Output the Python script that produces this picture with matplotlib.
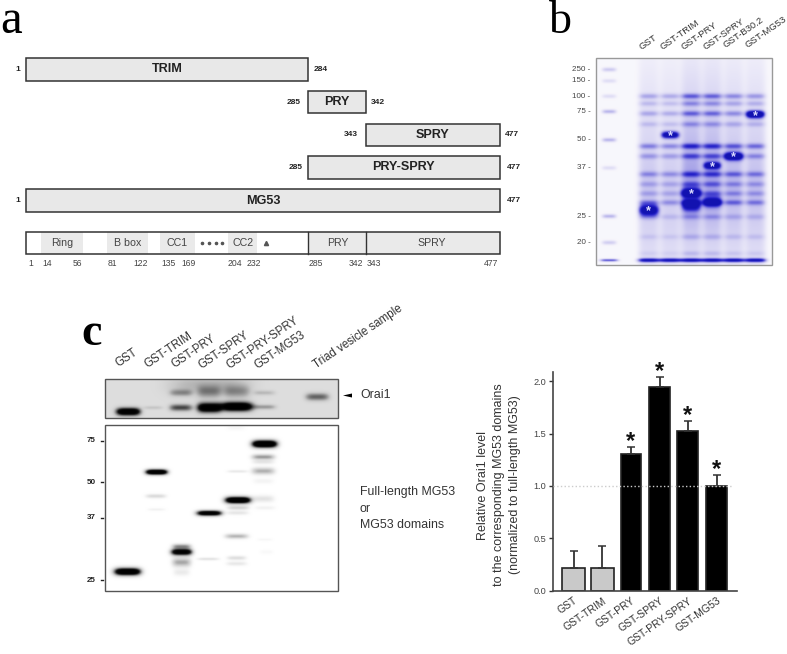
import numpy as np
import matplotlib
matplotlib.use('Agg')
import matplotlib.pyplot as plt
from matplotlib.colors import LinearSegmentedColormap
from matplotlib.patches import Rectangle, Polygon
from matplotlib.transforms import ScaledTranslation

plt.rcParams['font.family'] = ['Liberation Sans', 'DejaVu Sans']

# panel a: residue ranges
constructs = ['TRIM', 'PRY', 'SPRY', 'PRY-SPRY', 'MG53']
construct_start = [1, 285, 343, 285, 1]
construct_end = [284, 342, 477, 477, 477]
domain_names = ['Ring', 'B box', 'CC1', 'CC2']
residue_ticks = ['1', '14', '56', '81', '122', '135', '169', '204', '232', '285', '342', '343', '477']

# panel b: gel lanes
gel_b_labels = ['GST', 'GST-TRIM', 'GST-PRY', 'GST-SPRY', 'GST-B30.2', 'GST-MG53']
gel_b_mw = ['250', '150', '100', '75', '50', '37', '25', '20']

# panel c
blot_labels = ['GST', 'GST-TRIM', 'GST-PRY', 'GST-SPRY', 'GST-PRY-SPRY', 'GST-MG53', 'Triad vesicle sample']
blot_mw = ['75', '50', '37', '25']

# bar chart
bar_labels = ['GST', 'GST-TRIM', 'GST-PRY', 'GST-SPRY', 'GST-PRY-SPRY', 'GST-MG53']
bar_values = [0.22, 0.22, 1.30, 1.94, 1.52, 1.00]
bar_errors = [0.16, 0.21, 0.07, 0.10, 0.10, 0.10]
bar_signif = [False, False, True, True, True, True]

# band tables, x y halfwidth sigma density, in crop coordinates (3x)
top_blot_bands = [
    (175, 364, 36, 11, 1.3), (250, 352, 28, 5, 0.14), (333, 352, 34, 10, 0.6), (333, 308, 34, 10, 0.3),
    (418, 352, 36, 14, 1.3), (418, 305, 36, 18, 0.32), (500, 349, 48, 13, 1.4), (500, 305, 40, 18, 0.28),
    (583, 350, 34, 7, 0.3), (583, 308, 32, 7, 0.18), (742, 320, 35, 11, 0.5),
    (420, 285, 125, 30, 0.2),
]
low_blot_bands = [
    (173, 846, 40, 11, 1.6), (260, 548, 33, 8, 1.6), (258, 620, 30, 6, 0.22), (260, 660, 26, 4, 0.08),
    (335, 787, 32, 10, 1.4), (335, 770, 28, 7, 0.5), (335, 818, 28, 13, 0.45), (335, 848, 24, 10, 0.12),
    (418, 671, 38, 8, 1.4), (415, 808, 32, 4, 0.18),
    (504, 632, 39, 10, 1.6), (503, 546, 30, 4, 0.14), (505, 655, 32, 6, 0.25), (503, 670, 32, 6, 0.15),
    (500, 740, 34, 7, 0.4), (500, 805, 28, 6, 0.2), (500, 822, 30, 6, 0.14),
    (584, 464, 38, 11, 1.7), (580, 503, 34, 8, 0.5), (580, 518, 32, 6, 0.15), (580, 545, 34, 10, 0.42),
    (580, 575, 30, 8, 0.07), (580, 628, 32, 10, 0.17), (585, 655, 30, 6, 0.08), (585, 750, 22, 4, 0.05),
    (590, 787, 20, 6, 0.04), (498, 415, 27, 8, 0.05),
]
gel_common_y = [288, 310, 340, 372, 438, 468, 522, 552, 580, 607, 650, 710, 760]
gel_common_d = [0.45, 0.3, 0.4, 0.25, 0.55, 0.4, 0.45, 0.3, 0.3, 0.45, 0.2, 0.15, 0.15]
gel_lane_x = [326, 390, 453, 516, 580, 645]
gel_lane_gain = [0.75, 0.7, 1.25, 1.2, 0.95, 0.85]
gel_main_bands = [
    (326, 630, 29, 16, 1.4), (390, 404, 26, 10, 1.4), (453, 578, 29, 14, 1.3), (453, 615, 28, 17, 1.1),
    (516, 496, 25, 10, 1.3), (516, 605, 28, 15, 1.0), (580, 468, 28, 12, 1.3), (645, 343, 27, 11, 1.4),
]
gel_marker_y = [208, 242, 288, 334, 419, 503, 648, 727]
gel_marker_d = [0.3, 0.18, 0.18, 0.4, 0.4, 0.18, 0.4, 0.28]


def gel_image(x0, x1, y0, y1, bands, base=0.0):
    # sum of soft rectangles on a pixel grid, in figure pixels
    xx, yy = np.meshgrid(np.arange(x0, x1, 0.5), np.arange(y0, y1, 0.5))
    d = np.full(xx.shape, float(base))
    for x, y, w, s, a in bands:
        d += a * np.exp(-np.abs((xx - x) / w) ** 4) * np.exp(-((yy - y) / s) ** 2)
    return d


fig = plt.figure(figsize=(7.87, 6.54), dpi=100)
page = fig.add_axes([0, 0, 1, 1])
page.set_xlim(0, 787)
page.set_ylim(654, 0)
page.axis('off')

INK = '#222222'
FILL = '#e8e8e8'

# panel letters
page.text(0, 33, 'a', family='Liberation Serif', fontsize=35, color='black', va='baseline')
page.text(549, 33, 'b', family='Liberation Serif', fontsize=33, color='black', va='baseline')
page.text(81, 345, 'c', family='Liberation Serif', fontsize=33, weight='bold', color='black', va='baseline')

# panel a
x_of = {1: 26.3, 284: 308, 285: 308, 342: 365.7, 343: 365.7, 477: 499.7}
box_y = [58, 90.5, 123.5, 156, 189]
left_num_x = [18, 294, 351, 295.5, 18]
right_num_x = [321, 378, 512, 514, 514]
for name, s, e, y, lx, rx in zip(constructs, construct_start, construct_end, box_y, left_num_x, right_num_x):
    x0, x1 = x_of[s], x_of[e]
    page.add_patch(Rectangle((x0, y), x1 - x0, 22.5, fc=FILL, ec='#333333', lw=1.1))
    page.text((x0 + x1) / 2, y + 11.5, name, ha='center', va='center', fontsize=9.1, weight='bold', color='#222222')
    page.text(lx, y + 11.5, str(s), ha='center', va='center', fontsize=6, weight='bold', color=INK)
    page.text(rx, y + 11.5, str(e), ha='center', va='center', fontsize=6, weight='bold', color=INK)

dom_y0, dom_y1 = 231.5, 253.5
for (x0, x1), name in zip([(40.7, 83.3), (106.7, 148), (160.3, 194.7), (228.3, 257)], domain_names):
    page.add_patch(Rectangle((x0, dom_y0), x1 - x0, dom_y1 - dom_y0, fc='#eaeaea', ec='none'))
    page.text((x0 + x1) / 2, 243, name, ha='center', va='center', fontsize=7.7, color='#444444')
page.add_patch(Rectangle((308, dom_y0), 191.7, dom_y1 - dom_y0, fc='#eaeaea', ec='none'))
page.text(338, 243, 'PRY', ha='center', va='center', fontsize=7.7, color='#444444')
page.text(431.5, 243, 'SPRY', ha='center', va='center', fontsize=7.7, color='#444444')
page.add_patch(Rectangle((26.3, dom_y0), 473.4, dom_y1 - dom_y0, fc='none', ec='#333333', lw=1.1))
page.plot([308, 308], [dom_y0, dom_y1], color='#333333', lw=1)
page.plot([365.7, 365.7], [dom_y0, dom_y1], color='#333333', lw=1)
page.plot([201.5, 208.5, 215.5, 222], [243] * 4, ls='none', marker='o', ms=1.6, color='#555555')
page.plot([266.3], [243.3], ls='none', marker='^', ms=3, color='#555555')
tick_x = [31, 47.7, 77.3, 112, 140.3, 168.3, 189, 234.7, 253.7, 316, 355.7, 374, 490.7]
for lab, x in zip(residue_ticks, tick_x):
    page.text(x, 264, lab, ha='center', va='center', fontsize=6.2, color='#444444')

# panel b
lane_cmap = LinearSegmentedColormap.from_list(
    'coomassie', ['#f8f7fc', '#d4d1f2', '#a09ce6', '#5d59d8', '#2320c8', '#1212b0'])
bands_b = []
for lx, g in zip(gel_lane_x, gel_lane_gain):
    px = 540 + lx / 3
    bands_b.append((px, 130, 10.5, 75, 0.22 * g))
    bands_b.append((px, 190, 10.5, 45, 0.26 * g))
    bands_b.append((px, 245, 10.5, 40, 0.14))
    for y, d in zip(gel_common_y, gel_common_d):
        bands_b.append((px, y / 3, 10, 2.8, d * g))
    bands_b.append((px, 260, 11, 2, 1.1))
for x, y, w, s, a in gel_main_bands:
    bands_b.append((540 + x / 3, y / 3, w / 3, s / 3, a))
for y, d in zip(gel_marker_y, gel_marker_d):
    bands_b.append((609, y / 3, 7, 2, d))
bands_b.append((609, 260, 9, 1.3, 0.8))
bx0, bx1, by0, by1 = 596, 772, 58, 265
page.imshow(gel_image(bx0, bx1, by0, by1, bands_b), extent=(bx0, bx1, by1, by0), cmap=lane_cmap,
            vmin=0, vmax=1.3, aspect='auto', interpolation='bilinear')
page.add_patch(Rectangle((bx0, by0), bx1 - bx0, by1 - by0, fc='none', ec='#999999', lw=1))
star_b = [(326, 630), (390, 404), (453, 579), (516, 497), (580, 468), (645, 344)]
for x, y in star_b:
    page.text(540 + x / 3, y / 3 + 1.3, '*', color='#dcdcff', fontsize=9, ha='center', va='center', weight='bold')
for lab, y in zip(gel_b_mw, gel_marker_y):
    page.text(590.5, y / 3, lab + ' -', ha='right', va='center', fontsize=5.8, color='#444444')
for lab, x, y in zip(gel_b_labels, [641.7, 662.7, 684, 705.7, 726, 747.3], [50, 50, 50, 49.5, 48.5, 48.5]):
    page.text(x, y, lab, rotation=35, rotation_mode='anchor', ha='left', va='baseline', fontsize=6.8, color='#333333')

# panel c blots
gray = LinearSegmentedColormap.from_list('blot', ['white', '#c8c8c8', '#707070', '#101010', 'black'])
to_c = lambda bands: [(70 + x / 3, 290 + y / 3, w / 3, s / 3, a) for x, y, w, s, a in bands]
page.imshow(gel_image(105.3, 338.3, 379.3, 417.7, to_c(top_blot_bands), base=0.2), extent=(105.3, 338.3, 417.7, 379.3),
            cmap=gray, vmin=0, vmax=1.3, aspect='auto', interpolation='bilinear')
page.imshow(gel_image(105.3, 338.3, 425, 591.3, to_c(low_blot_bands)), extent=(105.3, 338.3, 591.3, 425),
            cmap=gray, vmin=0, vmax=1.3, aspect='auto', interpolation='bilinear')
page.set_xlim(0, 787)
page.set_ylim(654, 0)
page.add_patch(Rectangle((105.3, 379.3), 233, 38.4, fc='none', ec='#555555', lw=1))
page.add_patch(Rectangle((105.3, 425), 233, 166.3, fc='none', ec='#555555', lw=1))
anchor_x = [118.3, 147, 174, 201.7, 229.3, 257.3, 316]
anchor_y = [367.3, 368.3, 368.3, 369.3, 369.3, 369.3, 368.3]
for lab, x, y in zip(blot_labels, anchor_x, anchor_y):
    page.text(x, y, lab, rotation=34, rotation_mode='anchor', ha='left', va='baseline', fontsize=8.3, color='#333333')
for lab, y in zip(blot_mw, [440.7, 482, 517.7, 580]):
    page.text(96, y, lab, ha='right', va='center', fontsize=5.8, weight='bold', color=INK)
    page.plot([100.5, 103], [y, y], color=INK, lw=1)
page.add_patch(Polygon([[343, 395.5], [352, 393.5], [352, 397.5]], fc='black', ec='none'))
page.text(360, 395, 'Orai1', va='center', fontsize=8.9, color='#333333')
page.text(360, 492, 'Full-length MG53', va='center', fontsize=8.9, color='#333333')
page.text(360, 509, 'or', va='center', fontsize=8.9, color='#333333')
page.text(360, 525, 'MG53 domains', va='center', fontsize=8.9, color='#333333')

# bar chart, x axis in figure pixels
ax = fig.add_axes([553 / 787, 1 - 590.7 / 654, (737 - 553) / 787, (590.7 - 371.7) / 654])
ax.patch.set_alpha(0)
bar_x = [573.8, 602.2, 631, 659.5, 687.8, 716.5]
bar_w = [23, 23, 20.6, 21, 21, 21]
colors = ['#c9c9c9' if not s else 'black' for s in bar_signif]
ax.bar(bar_x, bar_values, width=bar_w, color=colors, edgecolor='#222222', linewidth=1.2)
ax.errorbar(bar_x, bar_values, yerr=[np.zeros(6), bar_errors], fmt='none', ecolor='#333333',
            elinewidth=1.3, capsize=3.2, capthick=1.1)
ax.axhline(1.0, xmin=0, xmax=0.98, color='#cccccc', lw=1, ls=':', zorder=5)
for x, v, e, s in zip(bar_x, bar_values, bar_errors, bar_signif):
    if s:
        ax.text(x, v + e + 0.055, '*', ha='center', va='center', fontsize=17, weight='bold', color='#111111')
ax.set_xlim(553, 737)
ax.set_ylim(0, 2.09)
ax.set_yticks([0, 0.5, 1.0, 1.5, 2.0])
ax.set_yticklabels(['0.0', '0.5', '1.0', '1.5', '2.0'], fontsize=6.6, color='#444444')
ax.set_xticks(bar_x)
ax.set_xticklabels(bar_labels, rotation=35, ha='right', rotation_mode='anchor', fontsize=7.5, color='#333333')
shift = ScaledTranslation(5 / 100, -10 / 100, fig.dpi_scale_trans)
for t in ax.get_xticklabels():
    t.set_transform(t.get_transform() + shift)
ax.tick_params(axis='x', length=0)
ax.tick_params(axis='y', length=3, width=1, color='#333333', pad=2)
for side in ['top', 'right']:
    ax.spines[side].set_visible(False)
for side in ['left', 'bottom']:
    ax.spines[side].set_color('#444444')
    ax.spines[side].set_linewidth(1.2)

page.text(499, 485, 'Relative Orai1 level\nto the corresponding MG53 domains\n(normalized to full-length MG53)',
          rotation=90, ha='center', va='center', fontsize=9, color='#333333', linespacing=1.45,
          multialignment='center')

fig.savefig('out.png', dpi=100)
